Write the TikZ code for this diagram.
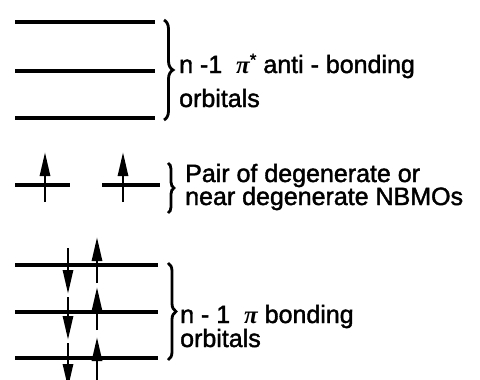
\documentclass[tikz,border=0pt]{standalone}
\usepackage{fontspec}
\setmainfont{Liberation Sans}[BoldFont={Liberation Sans},BoldFeatures={FakeBold=1.6}]
\newfontfamily\greekfont{Liberation Serif}[ItalicFont={Liberation Serif Italic},ItalicFeatures={FakeBold=2}]
\usetikzlibrary{arrows.meta,decorations.pathreplacing}
\begin{document}
\begin{tikzpicture}[x=1pt,y=-1pt,
  level/.style={line width=3.6pt},
  spin/.style={line width=2.8pt,-{Triangle[length=24pt,width=10pt]}},
  brc/.style={line width=2.8pt,decorate,decoration={brace,amplitude=#1}},
  lbl/.style={anchor=base west,inner sep=0pt,font=\fontsize{25}{25}\selectfont\bfseries}]
\useasboundingbox (0,0) rectangle (480,380);
\clip (0,0) rectangle (480,380);
% top block: anti-bonding levels
\coordinate (a1l) at (15,22);  \coordinate (a1r) at (155,22);
\coordinate (a2l) at (15,71);  \coordinate (a2r) at (155,71);
\coordinate (a3l) at (15,118); \coordinate (a3r) at (155,118);
\draw[level] (a1l) -- (a1r);
\draw[level] (a2l) -- (a2r);
\draw[level] (a3l) -- (a3r);
\coordinate (ab1) at (164,20); \coordinate (ab2) at (164,120);
\draw[brc=9pt] (ab1) -- (ab2);
\node[lbl] (at1) at (179,73) {n -1 \ {\greekfont\itshape π}\raisebox{0.3em}{\fontsize{17}{17}\selectfont *} anti - bonding};
\node[lbl] (at2) at (179,107) {orbitals};
% middle block: NBMOs
\coordinate (m1l) at (15,185);  \coordinate (m1r) at (70,185);
\coordinate (m2l) at (102,185); \coordinate (m2r) at (160,185);
\draw[level] (m1l) -- (m1r);
\draw[level] (m2l) -- (m2r);
\coordinate (mu1s) at (45,202);  \coordinate (mu1e) at (45,152);
\coordinate (mu2s) at (123,202); \coordinate (mu2e) at (123,152);
\draw[spin] (mu1s) -- (mu1e);
\draw[spin] (mu2s) -- (mu2e);
\coordinate (mb1) at (168,163); \coordinate (mb2) at (168,213);
\draw[brc=6pt] (mb1) -- (mb2);
\node[lbl] (mt1) at (185,182) {Pair of degenerate or};
\node[lbl] (mt2) at (185,205) {near degenerate NBMOs};
% bottom block: bonding levels
\coordinate (b1l) at (15,265); \coordinate (b1r) at (158,265);
\coordinate (b2l) at (15,312); \coordinate (b2r) at (158,312);
\coordinate (b3l) at (15,358); \coordinate (b3r) at (158,358);
\draw[level] (b1l) -- (b1r);
\draw[level] (b2l) -- (b2r);
\draw[level] (b3l) -- (b3r);
\coordinate (u1s) at (97,283); \coordinate (u1e) at (97,237);
\coordinate (u2s) at (97,330); \coordinate (u2e) at (97,287);
\coordinate (u3s) at (97,385); \coordinate (u3e) at (97,337);
\draw[spin] (u1s) -- (u1e);
\draw[spin] (u2s) -- (u2e);
\draw[spin] (u3s) -- (u3e);
\coordinate (d1s) at (68,248); \coordinate (d1e) at (68,294);
\coordinate (d2s) at (68,297); \coordinate (d2e) at (68,340);
\coordinate (d3s) at (68,343); \coordinate (d3e) at (68,388);
\draw[spin] (d1s) -- (d1e);
\draw[spin] (d2s) -- (d2e);
\draw[spin] (d3s) -- (d3e);
\coordinate (bb1) at (168,263); \coordinate (bb2) at (168,360);
\draw[brc=8pt] (bb1) -- (bb2);
\node[lbl] (bt1) at (180,323) {n - 1 \ {\greekfont\itshape π} bonding};
\node[lbl] (bt2) at (180,347) {orbitals};
\end{tikzpicture}
\end{document}
